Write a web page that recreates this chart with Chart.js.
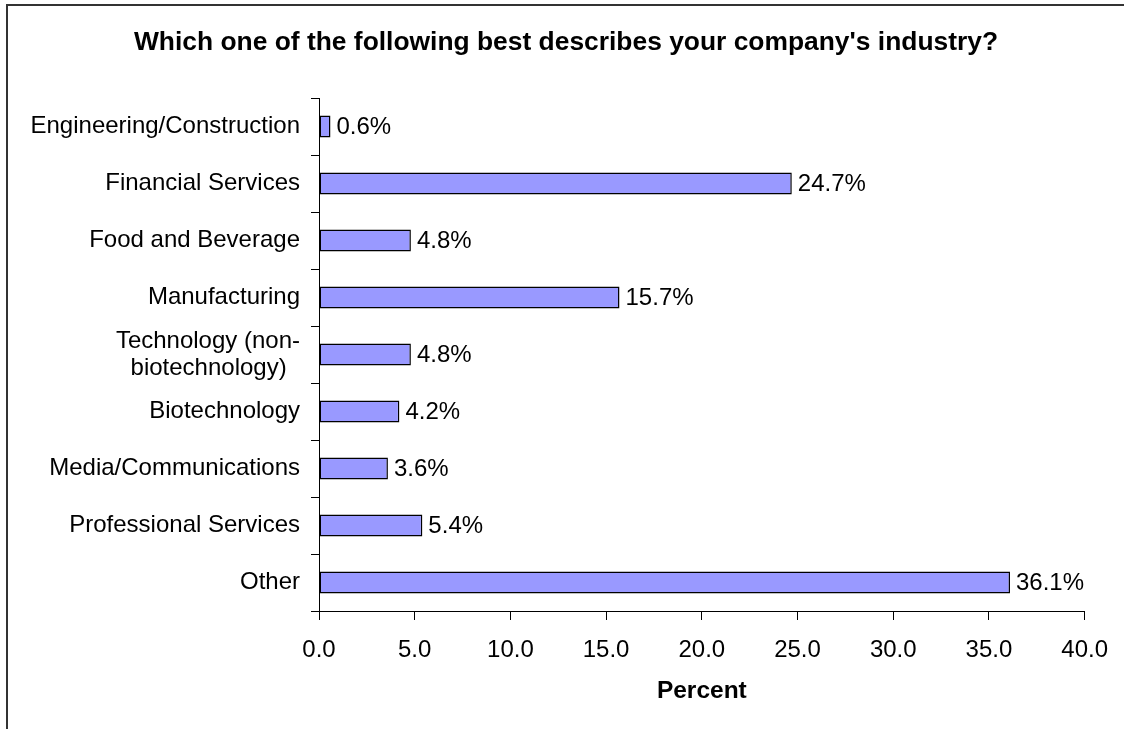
<!DOCTYPE html>
<html>
<head>
<meta charset="utf-8">
<title>Company industry</title>
<script src="https://cdn.jsdelivr.net/npm/chart.js@4.4.1/dist/chart.umd.min.js"></script>
<style>
  html, body { margin: 0; padding: 0; background: #fff; }
  #industryChart { display: block; }
</style>
</head>
<body>
<canvas id="industryChart" width="1124" height="729"></canvas>
<script>
// survey answers, top to bottom
const categories = [
  'Engineering/Construction',
  'Financial Services',
  'Food and Beverage',
  'Manufacturing',
  ['Technology (non-', 'biotechnology)  '],
  'Biotechnology',
  'Media/Communications',
  'Professional Services',
  'Other'
];
const percentValues = [0.6, 24.7, 4.8, 15.7, 4.8, 4.2, 3.6, 5.4, 36.1];
const xTicks = [0, 5, 10, 15, 20, 25, 30, 35, 40];
const chartTitle = "Which one of the following best describes your company's industry?";

const FONT = "'Liberation Sans', Arial, Helvetica, sans-serif";

// white background, left + top frame lines, and the heading
const framePlugin = {
  id: 'frame',
  beforeDraw(chart){
    const ctx = chart.ctx;
    ctx.save();
    ctx.fillStyle = '#fff';
    ctx.fillRect(0, 0, chart.width, chart.height);
    ctx.strokeStyle = '#333';
    ctx.lineWidth = 2;
    ctx.beginPath();
    ctx.moveTo(7, chart.height + 5);
    ctx.lineTo(7, 5);
    ctx.lineTo(chart.width + 5, 5);
    ctx.stroke();
    ctx.font = `bold 26.4px ${FONT}`;
    ctx.fillStyle = '#000';
    ctx.textAlign = 'center';
    ctx.textBaseline = 'middle';
    ctx.fillText(chartTitle, 566, 43);
    ctx.restore();
  }
};

// value text at the end of each bar
const barLabels = {
  id: 'barLabels',
  afterDatasetsDraw(chart){
    const ctx = chart.ctx;
    const meta = chart.getDatasetMeta(0);
    ctx.save();
    ctx.font = `24px ${FONT}`;
    ctx.fillStyle = '#000';
    ctx.textAlign = 'left';
    ctx.textBaseline = 'middle';
    meta.data.forEach((bar, i) => {
      ctx.fillText(percentValues[i].toFixed(1) + '%', bar.x + 6, bar.y + 1);
    });
    ctx.restore();
  }
};

new Chart(document.getElementById('industryChart'), {
  type: 'bar',
  data: {
    labels: categories,
    datasets: [{
      data: percentValues,
      backgroundColor: '#9999ff',
      borderColor: '#000',
      borderWidth: 1.5,
      borderSkipped: false,
      barPercentage: 0.39,
      categoryPercentage: 1
    }]
  },
  options: {
    indexAxis: 'y',
    responsive: false,
    animation: false,
    layout: { autoPadding: false, padding: { left: 0, right: 37, top: 98, bottom: 0 } },
    plugins: {
      legend: { display: false },
      tooltip: { enabled: false },
      title: { display: false }
    },
    scales: {
      x: {
        type: 'linear',
        position: 'bottom',
        min: 0,
        max: 40,
        afterBuildTicks: s => { s.ticks = xTicks.map(v => ({ value: v })); },
        afterFit: s => { s.height = 118; },
        grid: { drawOnChartArea: false, drawTicks: true, tickLength: 9, color: '#000' },
        border: { display: true, color: '#000', width: 1 },
        ticks: {
          color: '#000',
          padding: 16,
          maxRotation: 0,
          font: { family: FONT, size: 24 },
          callback: v => Number(v).toFixed(1)
        },
        title: {
          display: true,
          text: 'Percent',
          color: '#000',
          font: { family: FONT, size: 24.5, weight: 'bold' },
          padding: { top: 0, bottom: 23 }
        }
      },
      y: {
        afterFit: s => { s.width = 319; },
        grid: { drawOnChartArea: false, drawTicks: true, tickLength: 8, offset: true, color: '#000' },
        border: { display: true, color: '#000', width: 1 },
        ticks: {
          color: '#000',
          padding: 11,
          autoSkip: false,
          font: { family: FONT, size: 24, lineHeight: 1.12 }
        }
      }
    }
  },
  plugins: [framePlugin, barLabels]
});
</script>
</body>
</html>
